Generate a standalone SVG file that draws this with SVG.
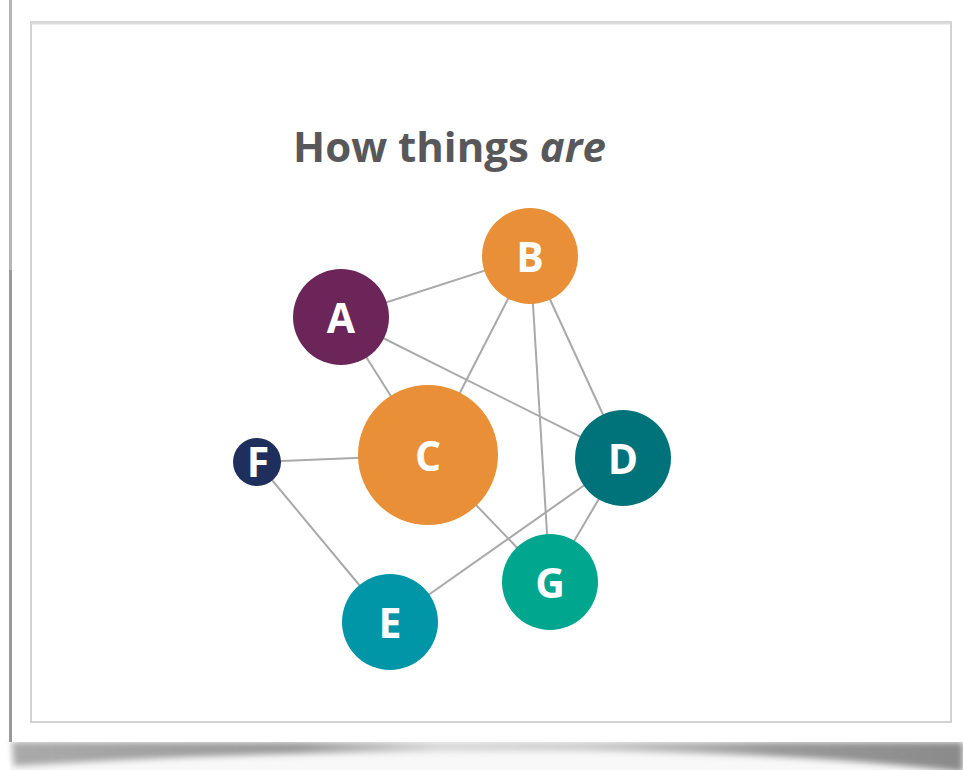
<svg xmlns="http://www.w3.org/2000/svg" width="963" height="770" viewBox="0 0 963 770">
<defs>
<filter id="blur4" x="-10%" y="-100%" width="120%" height="300%"><feGaussianBlur stdDeviation="3"/></filter>
<filter id="blur1" x="-10%" y="-100%" width="120%" height="300%"><feGaussianBlur stdDeviation="1"/></filter>
<linearGradient id="curl" x1="0" y1="0" x2="1" y2="0">
<stop offset="0" stop-color="#aaa"/>
<stop offset="0.3" stop-color="#999"/>
<stop offset="0.45" stop-color="#d8d8d8"/>
<stop offset="0.6" stop-color="#ccc"/>
<stop offset="0.8" stop-color="#999"/>
<stop offset="1" stop-color="#8a8a8a"/>
</linearGradient>
<style>
.edge{stroke:#a9a9a9;stroke-width:2;fill:none}
.lbl{font-family:"Open Sans","Noto Sans",sans-serif;font-weight:bold;font-size:41px;fill:#fff;text-anchor:middle}
.title{font-family:"Open Sans","Noto Sans",sans-serif;font-weight:bold;font-size:42px;fill:#58585a}
</style>
</defs>
<rect width="963" height="770" fill="#fff"/>
<rect x="10" y="742" width="953" height="28" fill="#f8f8f8"/>
<path d="M12,742 L963,742 L963,772 Q760,748 480,751 Q230,752 14,766 Z" fill="url(#curl)" filter="url(#blur4)"/>
<rect x="9" y="0" width="3" height="742" fill="#b5b5b5"/>
<rect x="9" y="270" width="3" height="472" fill="#999"/>
<rect x="12" y="0" width="951" height="742" fill="#fff"/>
<line x1="10" y1="743" x2="963" y2="743" stroke="#7a7a7a" stroke-width="2" filter="url(#blur1)"/>
<rect x="31" y="22" width="920" height="700" fill="#fff" stroke="#c4c4c4" stroke-width="1.5"/>
<line x1="31" y1="23.5" x2="951" y2="23.5" stroke="#ddd" stroke-width="2"/>
<text class="title" x="293" y="162">How things <tspan font-style="italic">are</tspan></text>
<g id="connectors">
<line class="edge" x1="341" y1="317" x2="530" y2="256"/>
<line class="edge" x1="341" y1="317" x2="428" y2="455"/>
<line class="edge" x1="341" y1="317" x2="623" y2="458"/>
<line class="edge" x1="530" y1="256" x2="428" y2="455"/>
<line class="edge" x1="530" y1="256" x2="550" y2="582"/>
<line class="edge" x1="530" y1="256" x2="623" y2="458"/>
<line class="edge" x1="257" y1="462" x2="428" y2="455"/>
<line class="edge" x1="428" y1="455" x2="550" y2="582"/>
<line class="edge" x1="257" y1="462" x2="390" y2="622"/>
<line class="edge" x1="390" y1="622" x2="623" y2="458"/>
<line class="edge" x1="623" y1="458" x2="550" y2="582"/>
</g>
<g id="node-A"><circle cx="341" cy="317" r="48" fill="#6b2559"/><text class="lbl" x="341" y="333">A</text></g>
<g id="node-B"><circle cx="530" cy="256" r="48" fill="#e88f37"/><text class="lbl" x="530" y="272">B</text></g>
<g id="node-C"><circle cx="428" cy="455" r="70" fill="#e88f37"/><text class="lbl" x="428" y="471">C</text></g>
<g id="node-D"><circle cx="623" cy="458" r="48" fill="#00737a"/><text class="lbl" x="623" y="474">D</text></g>
<g id="node-G"><circle cx="550" cy="582" r="48" fill="#00a68e"/><text class="lbl" x="550" y="598">G</text></g>
<g id="node-E"><circle cx="390" cy="622" r="48" fill="#0096a8"/><text class="lbl" x="390" y="638">E</text></g>
<g id="node-F"><circle cx="257" cy="462" r="24" fill="#1e2f5e"/><text class="lbl" x="258" y="477" font-size="39">F</text></g>
</svg>
